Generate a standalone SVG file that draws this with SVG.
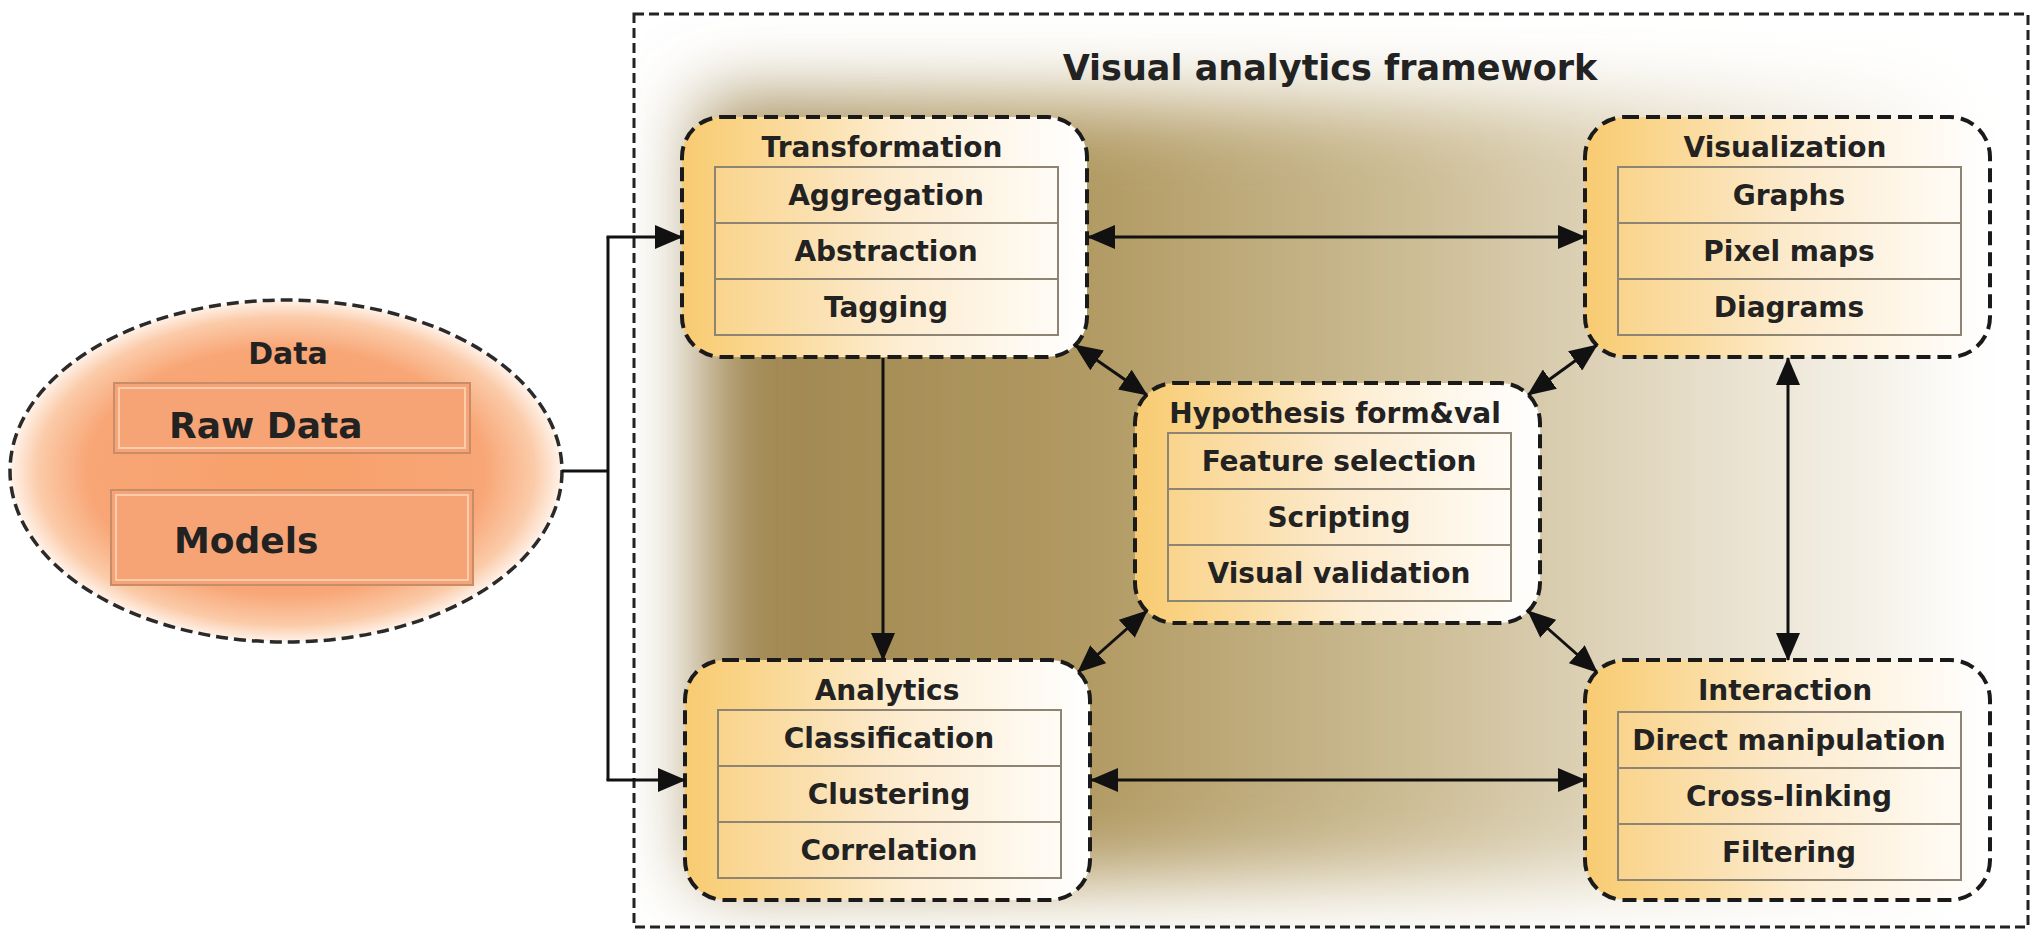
<svg xmlns="http://www.w3.org/2000/svg" width="2037" height="932" viewBox="0 0 2037 932">
<defs>
  <radialGradient id="dataGrad" cx="0.5" cy="0.5" r="0.5">
    <stop offset="0" stop-color="#F7A06A"/>
    <stop offset="0.72" stop-color="#F8A676"/>
    <stop offset="0.9" stop-color="#FBCBA9"/>
    <stop offset="1" stop-color="#FFF3EA"/>
  </radialGradient>
  <linearGradient id="nodeGrad" x1="0" y1="0" x2="1" y2="0">
    <stop offset="0" stop-color="#F8CB72"/>
    <stop offset="0.12" stop-color="#F9D283"/>
    <stop offset="0.55" stop-color="#FDEED4"/>
    <stop offset="1" stop-color="#FFFFFF"/>
  </linearGradient>
  <linearGradient id="rowGrad" x1="0" y1="0" x2="1" y2="0">
    <stop offset="0" stop-color="#F9D48C"/>
    <stop offset="0.5" stop-color="#FCEACC"/>
    <stop offset="1" stop-color="#FFFCF6"/>
  </linearGradient>
  <linearGradient id="bgGrad" x1="0" y1="0" x2="1" y2="0">
    <stop offset="0" stop-color="#9E8550"/>
    <stop offset="0.3" stop-color="#B09860"/>
    <stop offset="0.6" stop-color="#CFC09A"/>
    <stop offset="0.85" stop-color="#EBE4D4"/>
    <stop offset="1" stop-color="#FAF8F3"/>
  </linearGradient>
  <filter id="blur" x="-20%" y="-20%" width="140%" height="140%">
    <feGaussianBlur stdDeviation="38"/>
  </filter>
  <clipPath id="frameClip">
    <rect x="634" y="14" width="1394" height="913"/>
  </clipPath>
  <marker id="arrow" viewBox="0 0 28 24" refX="27" refY="12" markerWidth="28" markerHeight="24" markerUnits="userSpaceOnUse" orient="auto-start-reverse">
    <path d="M0,0 L28,12 L0,24 Z" fill="#111"/>
  </marker>
  <style>
    .frame{fill:none;stroke:#222;stroke-width:3;stroke-dasharray:10 5}
    .node{fill:url(#nodeGrad);stroke:#1a1a1a;stroke-width:4;stroke-dasharray:14 7}
    .row{fill:url(#rowGrad);stroke:#8E8474;stroke-width:2}
    .t{font-family:"DejaVu Sans","Verdana",sans-serif;font-weight:bold;fill:#222;text-anchor:middle}
    .ttl{font-size:28px}
    .item{font-size:28px}
    .conn{fill:none;stroke:#111;stroke-width:3}
    .dataBox{fill:#F6A476;stroke:#C98C68;stroke-width:2}
    .dataInner{fill:none;stroke:#FBCDAE;stroke-width:2}
  </style>
</defs>

<!-- framework background -->
<g id="framework">
  <rect x="634" y="14" width="1394" height="913" fill="#FFFFFF"/>
  <g clip-path="url(#frameClip)">
    <rect x="700" y="100" width="1240" height="780" fill="url(#bgGrad)" filter="url(#blur)"/>
  </g>
  <rect class="frame" x="634" y="14" width="1394" height="913"/>
  <text class="t" x="1330" y="80" font-size="35">Visual analytics framework</text>
</g>

<!-- Data -->
<g id="data">
  <ellipse cx="286" cy="471" rx="276" ry="171" fill="url(#dataGrad)" stroke="#2a2a2a" stroke-width="3.5" stroke-dasharray="12 6"/>
  <text class="t" x="288" y="364" font-size="30">Data</text>
  <rect class="dataBox" x="114" y="383" width="356" height="70"/>
  <rect class="dataInner" x="119" y="388" width="346" height="60"/>
  <text class="t" x="169" y="438" font-size="36" style="text-anchor:start">Raw Data</text>
  <rect class="dataBox" x="111" y="490" width="362" height="95"/>
  <rect class="dataInner" x="116" y="495" width="352" height="85"/>
  <text class="t" x="174" y="553" font-size="36" style="text-anchor:start">Models</text>
</g>

<!-- Transformation -->
<g id="transformation" transform="translate(682,117)">
  <rect class="node" x="0" y="0" width="405" height="240" rx="40"/>
  <text class="t ttl" x="200" y="40">Transformation</text>
  <rect class="row" x="33" y="50" width="343" height="56"/>
  <rect class="row" x="33" y="106" width="343" height="56"/>
  <rect class="row" x="33" y="162" width="343" height="56"/>
  <text class="t item" x="204" y="88">Aggregation</text>
  <text class="t item" x="204" y="144">Abstraction</text>
  <text class="t item" x="204" y="200">Tagging</text>
</g>

<!-- Visualization -->
<g id="visualization" transform="translate(1585,117)">
  <rect class="node" x="0" y="0" width="405" height="240" rx="40"/>
  <text class="t ttl" x="200" y="40">Visualization</text>
  <rect class="row" x="33" y="50" width="343" height="56"/>
  <rect class="row" x="33" y="106" width="343" height="56"/>
  <rect class="row" x="33" y="162" width="343" height="56"/>
  <text class="t item" x="204" y="88">Graphs</text>
  <text class="t item" x="204" y="144">Pixel maps</text>
  <text class="t item" x="204" y="200">Diagrams</text>
</g>

<!-- Hypothesis -->
<g id="hypothesis" transform="translate(1135,383)">
  <rect class="node" x="0" y="0" width="405" height="240" rx="40"/>
  <text class="t ttl" x="200" y="40">Hypothesis form&amp;val</text>
  <rect class="row" x="33" y="50" width="343" height="56"/>
  <rect class="row" x="33" y="106" width="343" height="56"/>
  <rect class="row" x="33" y="162" width="343" height="56"/>
  <text class="t item" x="204" y="88">Feature selection</text>
  <text class="t item" x="204" y="144">Scripting</text>
  <text class="t item" x="204" y="200">Visual validation</text>
</g>

<!-- Analytics -->
<g id="analytics" transform="translate(685,660)">
  <rect class="node" x="0" y="0" width="405" height="240" rx="40"/>
  <text class="t ttl" x="202" y="40">Analytics</text>
  <rect class="row" x="33" y="50" width="343" height="56"/>
  <rect class="row" x="33" y="106" width="343" height="56"/>
  <rect class="row" x="33" y="162" width="343" height="56"/>
  <text class="t item" x="204" y="88">Classification</text>
  <text class="t item" x="204" y="144">Clustering</text>
  <text class="t item" x="204" y="200">Correlation</text>
</g>

<!-- Interaction -->
<g id="interaction" transform="translate(1585,660)">
  <rect class="node" x="0" y="0" width="405" height="240" rx="40"/>
  <text class="t ttl" x="200" y="40">Interaction</text>
  <rect class="row" x="33" y="52" width="343" height="56"/>
  <rect class="row" x="33" y="108" width="343" height="56"/>
  <rect class="row" x="33" y="164" width="343" height="56"/>
  <text class="t item" x="204" y="90">Direct manipulation</text>
  <text class="t item" x="204" y="146">Cross-linking</text>
  <text class="t item" x="204" y="202">Filtering</text>
</g>

<!-- connectors -->
<g id="connectors">
  <path class="conn" d="M562,471 H608"/>
  <path class="conn" d="M608,237 V780"/>
  <path class="conn" d="M606.5,237 H682" marker-end="url(#arrow)"/>
  <path class="conn" d="M606.5,780 H685" marker-end="url(#arrow)"/>
  <path class="conn" d="M1088,237 H1585" marker-start="url(#arrow)" marker-end="url(#arrow)"/>
  <path class="conn" d="M883,358 V660" marker-end="url(#arrow)"/>
  <path class="conn" d="M1091,780 H1585" marker-start="url(#arrow)" marker-end="url(#arrow)"/>
  <path class="conn" d="M1788,358 V660" marker-start="url(#arrow)" marker-end="url(#arrow)"/>
  <path class="conn" d="M1075,345 L1147,395" marker-start="url(#arrow)" marker-end="url(#arrow)"/>
  <path class="conn" d="M1597,345 L1528,395" marker-start="url(#arrow)" marker-end="url(#arrow)"/>
  <path class="conn" d="M1147,611 L1078,672" marker-start="url(#arrow)" marker-end="url(#arrow)"/>
  <path class="conn" d="M1528,611 L1597,672" marker-start="url(#arrow)" marker-end="url(#arrow)"/>
</g>
</svg>
